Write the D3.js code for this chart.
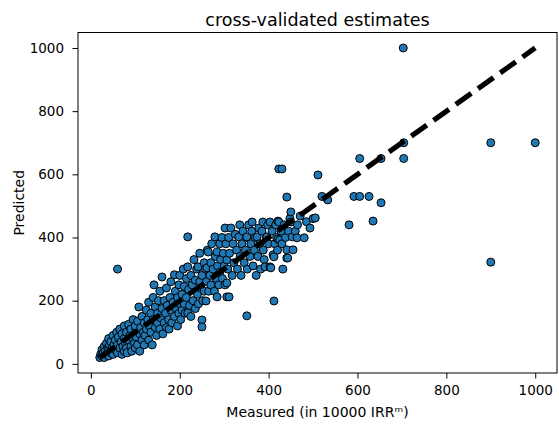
<!DOCTYPE html>
<html>
<head>
<meta charset="utf-8">
<script src="https://cdn.jsdelivr.net/npm/d3@7"></script>
<style>
  body { margin: 0; background: #fff; }
  text { font-family: "DejaVu Sans", sans-serif; fill: #000; }
</style>
</head>
<body>
<div id="chart"></div>
<script>
// measured vs predicted (cross-validated), in 10000 IRR
const points = [
  [20,20],[22,30],[25,25],[25,45],[28,35],[30,20],[30,55],[32,40],[35,30],[35,65],
  [38,50],[40,25],[40,45],[40,80],[42,60],[45,35],[45,70],[48,50],[50,30],[50,90],
  [52,60],[55,45],[55,75],[58,100],[60,35],[60,60],[60,300],[62,85],[65,50],[65,110],
  [68,70],[70,30],[70,95],[72,55],[75,40],[75,80],[75,120],[78,65],[80,100],[80,50],
  [82,35],[85,75],[85,125],[88,90],[90,55],[90,110],[92,40],[95,80],[95,140],[98,65],
  [100,100],[100,50],[100,120],[102,85],[105,135],[105,60],[108,180],[110,95],[110,40],[112,115],
  [115,75],[115,150],[118,100],[120,60],[120,130],
  [122,90],[125,170],[125,110],[128,140],[130,75],[130,195],[132,120],[135,100],[135,160],[138,60],
  [140,140],[140,210],[142,250],[145,115],[145,180],[148,90],[150,160],[150,130],[152,200],[155,110],
  [155,230],[158,145],[160,275],[160,175],[162,95],[165,130],[165,200],[168,160],[170,240],[170,115],
  [172,185],[175,140],[176,110],[178,210],[180,170],[180,260],[182,130],[185,195],[188,282],[188,150],
  [190,230],[192,175],[195,120],[195,210],[198,250],[198,160],[200,190],[200,280],
  [202,140],[205,220],[205,170],[208,300],[210,245],[210,190],[212,160],[215,270],[215,210],[218,402],
  [218,307],[218,161],[220,235],[222,185],[225,280],[225,150],[228,250],[230,200],[232,330],[235,265],
  [235,175],[238,300],[240,220],[241,307],[242,190],[245,350],[245,260],[248,240],[250,139],[250,117],
  [250,280],[252,200],[255,320],[255,230],[258,300],[259,199],[260,260],[261,304],[262,360],[264,354],
  [265,230],[268,280],[270,320],[270,250],[272,380],[275,300],[278,230],[279,402],[280,340],[282,270],
  [284,212],[284,354],[285,310],[288,250],[290,380],[290,290],[292,330],[295,400],[296,270],[298,350],
  [300,310],
  [302,430],[302,250],[304,380],[306,212],[306,256],[306,329],[308,300],[310,400],[311,212],[312,350],
  [315,430],[318,280],[320,380],[322,320],[325,410],[328,360],[330,300],[333,402],[335,440],[336,340],
  [338,280],[340,380],[342,420],[345,320],[348,360],[350,400],[351,152],[351,402],[352,300],[355,440],
  [358,340],[360,380],[362,420],[363,449],[365,310],[368,360],[370,400],[372,280],[374,402],[376,340],
  [378,430],[380,380],[382,300],[385,420],[387,449],[388,360],[390,330],[392,307],[395,400],[396,402],
  [398,440],[400,380],
  [403,449],[403,307],[405,304],[408,420],[410,345],[412,199],[412,339],[414,380],[416,440],[418,400],
  [420,360],[421,452],[421,395],[423,617],[423,449],[425,392],[428,420],[430,617],[430,380],[432,300],
  [435,440],[438,400],[441,528],[441,361],[441,335],[443,335],[445,420],[448,460],[450,481],[450,449],
  [453,402],[455,361],[460,420],[464,399],[465,440],[471,468],[480,399],[485,450],[493,430],[500,460],
  [505,462],[511,598],[520,530],[533,519],
  [581,440],[592,530],[605,530],[626,530],[635,452],[653,510],[605,650],[653,650],[704,650],[704,700],
  [703,1000],[900,700],[900,322],[1000,700]
];
const lineEnds = [20, 1000];
const xTicks = [0, 200, 400, 600, 800, 1000];
const yTicks = [0, 200, 400, 600, 800, 1000];
const domain = [-29, 1049];

const W = 559, H = 424;
const plot = {left: 78, right: 557, top: 32.5, bottom: 373};

const svg = d3.select("#chart").append("svg")
    .attr("width", W)
    .attr("height", H);

const x = d3.scaleLinear().domain(domain).range([plot.left, plot.right]);
const y = d3.scaleLinear().domain(domain).range([plot.bottom, plot.top]);

// points
svg.append("g")
    .selectAll("circle")
    .data(points)
    .enter()
    .append("circle")
    .attr("cx", d => x(d[0]))
    .attr("cy", d => y(d[1]))
    .attr("r", 4)
    .attr("fill", "#1f77b4")
    .attr("stroke", "#000")
    .attr("stroke-width", 1);

// identity line, dashed
svg.append("line")
    .attr("x1", x(lineEnds[0]))
    .attr("y1", y(lineEnds[0]))
    .attr("x2", x(lineEnds[1]))
    .attr("y2", y(lineEnds[1]))
    .attr("stroke", "#000")
    .attr("stroke-width", 5.2)
    .attr("stroke-dasharray", "19,8.3");

// axes
const fmt = d3.format("d");
const xAxis = svg.append("g")
    .attr("transform", `translate(0,${plot.bottom})`)
    .call(d3.axisBottom(x).tickValues(xTicks).tickFormat(fmt).tickSize(5.5).tickPadding(6.5).tickSizeOuter(0));
const yAxis = svg.append("g")
    .attr("transform", `translate(${plot.left},0)`)
    .call(d3.axisLeft(y).tickValues(yTicks).tickFormat(fmt).tickSize(5.5).tickPadding(8.5).tickSizeOuter(0));

[xAxis, yAxis].forEach(a => {
  a.select(".domain").remove();
  a.selectAll("line").attr("stroke", "#000").attr("stroke-width", 1);
  a.selectAll("text").attr("font-family", "DejaVu Sans").attr("font-size", 13.5).attr("fill", "#000");
});

// frame
svg.append("rect")
    .attr("x", plot.left)
    .attr("y", plot.top)
    .attr("width", plot.right - plot.left)
    .attr("height", plot.bottom - plot.top)
    .attr("fill", "none")
    .attr("stroke", "#000")
    .attr("stroke-width", 1);

// labels
svg.append("text")
    .attr("x", (plot.left + plot.right) / 2)
    .attr("y", 26)
    .attr("text-anchor", "middle")
    .attr("font-size", 17.5)
    .text("cross-validated estimates");

svg.append("text")
    .attr("x", (plot.left + plot.right) / 2)
    .attr("y", 417)
    .attr("text-anchor", "middle")
    .attr("font-size", 14)
    .text("Measured (in 10000 IRRᵐ)");

svg.append("text")
    .attr("transform", `translate(24,${(plot.top + plot.bottom) / 2}) rotate(-90)`)
    .attr("text-anchor", "middle")
    .attr("font-size", 14)
    .text("Predicted");
</script>
</body>
</html>
